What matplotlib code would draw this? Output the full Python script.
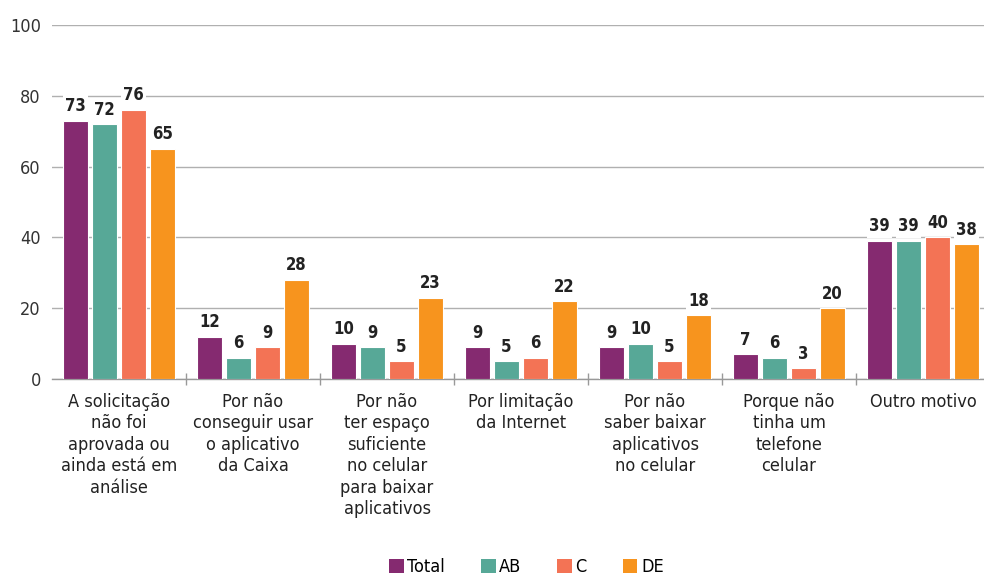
import matplotlib
matplotlib.use("Agg")
import matplotlib.pyplot as plt
import numpy as np
from matplotlib.patches import Patch

plt.rcParams['font.family'] = ['DejaVu Sans']
plt.rcParams['font.stretch'] = 'condensed'

categories = [
    "A solicitação\nnão foi\naprovada ou\nainda está em\nanálise",
    "Por não\nconseguir usar\no aplicativo\nda Caixa",
    "Por não\nter espaço\nsuficiente\nno celular\npara baixar\naplicativos",
    "Por limitação\nda Internet",
    "Por não\nsaber baixar\naplicativos\nno celular",
    "Porque não\ntinha um\ntelefone\ncelular",
    "Outro motivo",
]
series_names = ["Total", "AB", "C", "DE"]
total = [73, 12, 10, 9, 9, 7, 39]
ab = [72, 6, 9, 5, 10, 6, 39]
c = [76, 9, 5, 6, 5, 3, 40]
de = [65, 28, 23, 22, 18, 20, 38]
colors = ["#852A70", "#57A897", "#F37355", "#F7941E"]
yticks = [0, 20, 40, 60, 80, 100]

fig = plt.figure(figsize=(9.84, 5.78), dpi=100)
ax = fig.add_axes([52/984, 1-379/578, 932/984, (379-25)/578])

data = [total, ab, c, de]
x = np.arange(len(categories))
step = 0.216
width = 0.19
for i, (vals, col) in enumerate(zip(data, colors)):
    pos = x + (i - 1.5) * step
    ax.bar(pos, vals, width=width, color=col, edgecolor='white', linewidth=0.8, zorder=3)
    for xi, v in zip(pos, vals):
        ax.annotate(str(v), (xi, v), xytext=(0, 4), textcoords='offset points',
                    ha='center', va='bottom', fontsize=12, fontweight='bold',
                    color='#222222', zorder=4,
                    bbox=dict(boxstyle='square,pad=0.15', fc='white', ec='none'))

ax.set_ylim(0, 100)
ax.set_xlim(-0.5, 6.455)
ax.set_yticks(yticks)
ax.set_yticklabels([str(t) for t in yticks], fontsize=13, color='#333333')
ax.tick_params(axis='y', length=0, pad=8)
ax.yaxis.grid(True, color='#b0b0b0', linewidth=1, zorder=0)
ax.set_axisbelow(True)

ax.set_xticks(x)
ax.set_xticklabels(categories, fontsize=13, color='#222222', linespacing=1.25)
ax.tick_params(axis='x', length=0, pad=10)
ax.set_xticks(np.arange(0.5, 6.5, 1), minor=True)
ax.tick_params(axis='x', which='minor', length=8, color='#999999', width=1, direction='inout')

for s in ['top', 'right', 'left']:
    ax.spines[s].set_visible(False)
ax.spines['bottom'].set_color('#999999')
ax.spines['bottom'].set_linewidth(1)

handles = [Patch(facecolor=col, edgecolor='none', label=n) for n, col in zip(series_names, colors)]
fig.legend(handles=handles, loc='center', bbox_to_anchor=(0.535, 1-567/578), ncol=4,
           frameon=False, fontsize=13, handlelength=0.8, handleheight=0.8,
           handletextpad=0.2, columnspacing=2.0)

fig.savefig("out.png", dpi=100)
